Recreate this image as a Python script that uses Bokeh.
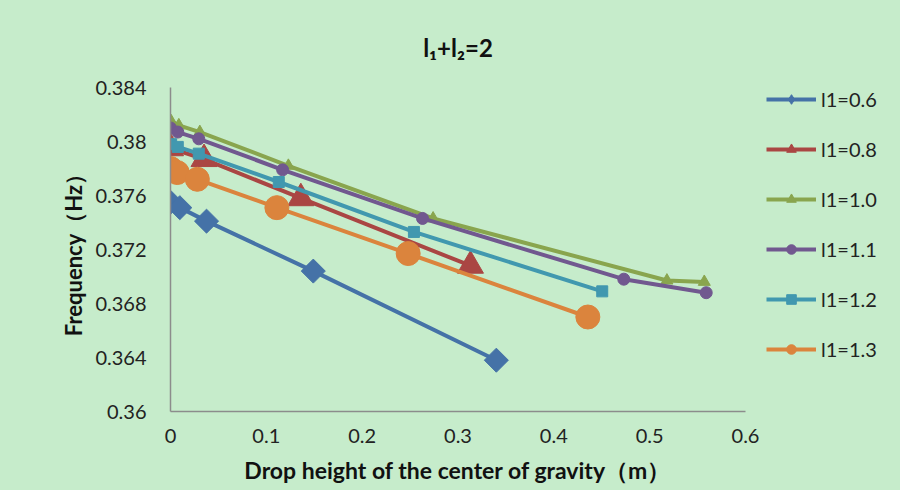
import math
from bokeh.plotting import figure
from bokeh.layouts import row
from bokeh.models import Legend, LegendItem, FixedTicker
from bokeh.embed import file_html
from bokeh.resources import INLINE

# ---- data ----
names = ["l1=0.6", "l1=0.8", "l1=1.0", "l1=1.1", "l1=1.2", "l1=1.3"]

x_06 = [0.0, 0.0097, 0.0376, 0.149, 0.340]
y_06 = [0.3755, 0.3751, 0.3741, 0.3704, 0.3638]

x_08 = [0.0, 0.035, 0.136, 0.313]
y_08 = [0.3795, 0.3787, 0.3758, 0.3708]

x_10 = [0.0007, 0.0087, 0.0306, 0.123, 0.274, 0.518, 0.557]
y_10 = [0.3815, 0.3812, 0.3807, 0.3782, 0.3743, 0.3697, 0.3696]

x_11 = [0.0, 0.0076, 0.0295, 0.117, 0.263, 0.473, 0.559]
y_11 = [0.3810, 0.3807, 0.3802, 0.3779, 0.3743, 0.3698, 0.3688]

x_12 = [0.0007, 0.0076, 0.0295, 0.113, 0.254, 0.4505]
y_12 = [0.3798, 0.3796, 0.3791, 0.3770, 0.3733, 0.3689]

x_13 = [0.0, 0.007, 0.028, 0.111, 0.248, 0.4355]
y_13 = [0.3780, 0.3777, 0.3772, 0.3751, 0.3717, 0.3670]

x_ticks = [0, 0.1, 0.2, 0.3, 0.4, 0.5, 0.6]
x_tick_labels = ["0", "0.1", "0.2", "0.3", "0.4", "0.5", "0.6"]
y_ticks = [0.36, 0.364, 0.368, 0.372, 0.376, 0.38, 0.384]
y_tick_labels = ["0.36", "0.364", "0.368", "0.372", "0.376", "0.38", "0.384"]

xs = [x_06, x_08, x_10, x_11, x_12, x_13]
ys = [y_06, y_08, y_10, y_11, y_12, y_13]

# ---- styles ----
colors = ["#4572A7", "#AA4643", "#89A54E", "#71588F", "#4198AF", "#DB843D"]
markers = ["square", "triangle", "triangle", "circle", "square", "circle"]
sizes = [17, 26, 12, 12, 11, 24]
angles = [math.pi / 4, 0, 0, 0, 0, 0]
legend_markers = ["diamond", "triangle", "triangle", "circle", "square", "circle"]
legend_sizes = [18, 18, 12, 12, 11, 18]

BG = "#C6ECCB"
FONT = "Lato"
H = 490

p = figure(width=765, height=H, x_range=(0, 0.6), y_range=(0.36, 0.384),
           output_backend="svg", toolbar_location=None,
           background_fill_color=BG, border_fill_color=BG,
           outline_line_color=None,
           min_border_left=170, min_border_right=20,
           min_border_top=87, min_border_bottom=79)

p.title.text = "l\u2081+l\u2082=2"
p.title.align = "center"
p.title.text_font = FONT
p.title.text_font_size = "24px"
p.title.text_font_style = "bold"
p.title.text_color = "#111111"
p.title.standoff = 51

p.xgrid.visible = False
p.ygrid.visible = False

for ax in (p.xaxis[0], p.yaxis[0]):
    ax.axis_line_color = "#8C8C8C"
    ax.axis_line_width = 1.5
    ax.major_tick_line_color = None
    ax.minor_tick_line_color = None
    ax.major_tick_out = 0
    ax.major_tick_in = 0
    ax.minor_tick_out = 0
    ax.minor_tick_in = 0
    ax.major_label_text_font = FONT
    ax.major_label_text_font_size = "20px"
    ax.major_label_text_color = "#222222"
    ax.axis_label_text_font = FONT
    ax.axis_label_text_font_style = "bold"
    ax.axis_label_text_color = "#111111"

p.xaxis.axis_label_text_font_size = "23px"
p.yaxis.axis_label_text_font_size = "22px"

p.xaxis.ticker = FixedTicker(ticks=x_ticks)
p.xaxis.major_label_overrides = {t: l for t, l in zip(x_ticks, x_tick_labels)}
p.yaxis.ticker = FixedTicker(ticks=y_ticks)
p.yaxis.major_label_overrides = {t: l for t, l in zip(y_ticks, y_tick_labels)}
p.xaxis.major_label_standoff = 17
p.yaxis.major_label_standoff = 24
p.xaxis.axis_label = "Drop height of the center of gravity\uff08m\uff09"
p.yaxis.axis_label = "Frequency\uff08Hz\uff09"
p.xaxis.axis_label_standoff = 10
p.yaxis.axis_label_standoff = 5

for x, y, c, m, s, a in zip(xs, ys, colors, markers, sizes, angles):
    p.line(x, y, line_color=c, line_width=4)
    p.scatter(x, y, marker=m, size=s, angle=a, fill_color=c, line_color=c)

# ---- legend panel (separate narrow figure to the right) ----
# its ranges keep the series out of view; the renderers only feed the legend
q = figure(width=135, height=H, x_range=(0, 1), y_range=(1, 2),
           output_backend="svg", toolbar_location=None,
           background_fill_color=BG, border_fill_color=BG,
           outline_line_color=None, min_border=0)
q.xaxis.visible = False
q.yaxis.visible = False
q.xgrid.visible = False
q.ygrid.visible = False

items = []
for name, x, y, c, m, s in zip(names, xs, ys, colors, legend_markers, legend_sizes):
    lr = q.line(x, y, line_color=c, line_width=4)
    sr = q.scatter(x, y, marker=m, size=s, fill_color=c, line_color=c)
    items.append(LegendItem(label=name, renderers=[lr, sr]))

legend = Legend(items=items, location=(1, 50), orientation="vertical",
                glyph_width=50, glyph_height=24, label_height=24, spacing=26,
                label_standoff=5, padding=0, margin=0,
                border_line_color=None, background_fill_alpha=0,
                label_text_font=FONT, label_text_font_size="20px",
                label_text_color="#222222")
q.add_layout(legend)

layout = row(p, q, spacing=0, styles={"background-color": BG})
open("out.html", "w").write(file_html(layout, INLINE))
